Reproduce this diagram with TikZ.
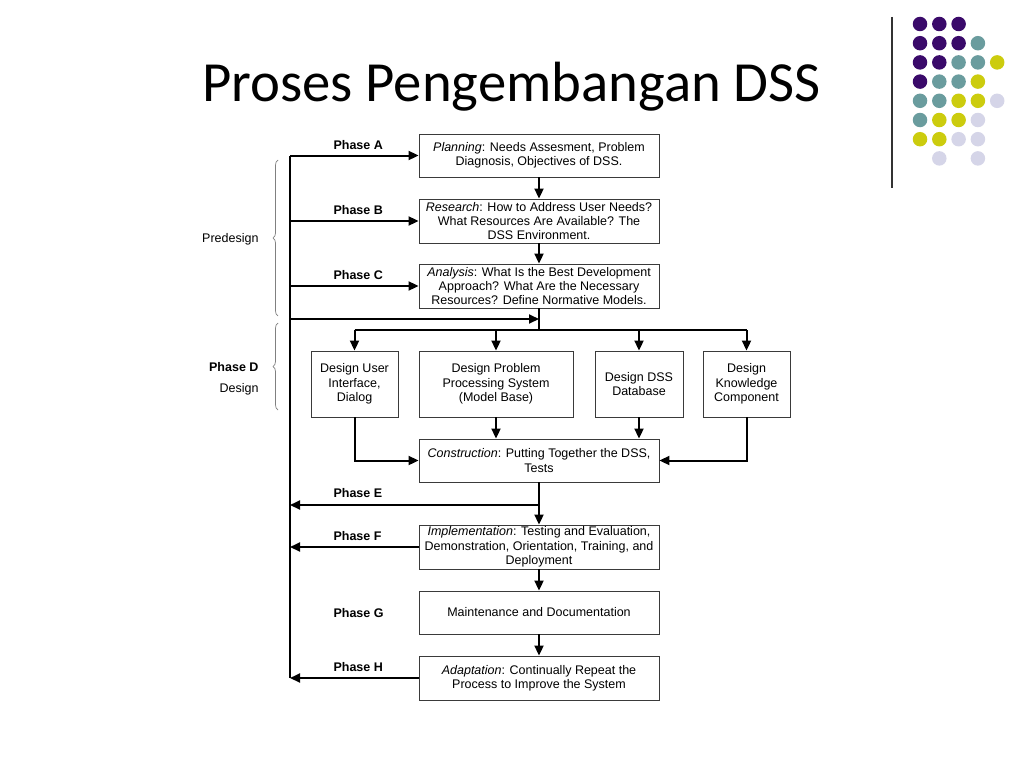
\documentclass[tikz,border=0pt]{standalone}
\usepackage{fontspec}
\setmainfont{Liberation Sans}
\newfontfamily\titlefont{Carlito}
\usetikzlibrary{arrows.meta,decorations.pathreplacing}
\definecolor{dpurple}{HTML}{3A0A6A}
\definecolor{dteal}{HTML}{6A9C9E}
\definecolor{dyellow}{HTML}{CCCC0E}
\definecolor{dlav}{HTML}{D5D5E8}
\definecolor{boxline}{HTML}{3A3A3A}
\tikzset{
  box/.style={draw=boxline, line width=0.9pt, align=center, inner sep=1pt,
    font=\fontsize{12.5}{14.3}\selectfont},
  phase/.style={anchor=west, font=\fontsize{12.5}{14.5}\selectfont\bfseries},
  side/.style={anchor=east, font=\fontsize{12.5}{14.5}\selectfont},
  flow/.style={line width=2pt, -{Triangle[length=10pt,width=9pt]}},
  plain/.style={line width=2pt},
  brc/.style={draw=gray, line width=0.7pt, decorate, decoration={brace, amplitude=5pt}},
  dot/.style={circle, inner sep=0pt, minimum size=14.5pt},
}
\begin{document}
\begin{tikzpicture}[x=1pt,y=-1pt]
\useasboundingbox[fill=white] (0,0) rectangle (1024,768);
% title
\node[font=\titlefont\fontsize{56.7}{62}\selectfont, anchor=base] (title) at (511.5,101) {Proses Pengembangan DSS};
% decoration
\draw[line width=1.2pt, black!80] (892,17) -- (892,188);
\foreach \c/\r/\col in {1/1/dpurple,2/1/dpurple,3/1/dpurple,
  1/2/dpurple,2/2/dpurple,3/2/dpurple,4/2/dteal,
  1/3/dpurple,2/3/dpurple,3/3/dteal,4/3/dteal,5/3/dyellow,
  1/4/dpurple,2/4/dteal,3/4/dteal,4/4/dyellow,
  1/5/dteal,2/5/dteal,3/5/dyellow,4/5/dyellow,5/5/dlav,
  1/6/dteal,2/6/dyellow,3/6/dyellow,4/6/dlav,
  1/7/dyellow,2/7/dyellow,3/7/dlav,4/7/dlav,
  2/8/dlav,4/8/dlav}
  \node[dot, fill=\col] (d\c\r) at ({920+19.3*(\c-1)},{24+19.2*(\r-1)}) {};
% boxes
\node[box, minimum width=240pt, minimum height=43pt] (plan) at (539,155.5)
  {\textit{Planning}: Needs Assesment, Problem\\Diagnosis, Objectives of DSS.};
\node[box, minimum width=240pt, minimum height=44pt] (res) at (539,221)
  {\textit{Research}: How to Address User Needs?\\What Resources Are Available? The\\DSS Environment.};
\node[box, minimum width=240pt, minimum height=44pt] (ana) at (539,286)
  {\textit{Analysis}: What Is the Best Development\\Approach? What Are the Necessary\\Resources? Define Normative Models.};
\node[box, minimum width=87pt, minimum height=66pt] (dui) at (354.5,384)
  {Design User\\Interface,\\Dialog};
\node[box, minimum width=154pt, minimum height=66pt] (dpp) at (496,384)
  {Design Problem\\Processing System\\(Model Base)};
\node[box, minimum width=88pt, minimum height=66pt] (ddb) at (639,384)
  {Design DSS\\Database};
\node[box, minimum width=87pt, minimum height=66pt] (dkc) at (746.5,384)
  {Design\\Knowledge\\Component};
\node[box, minimum width=240pt, minimum height=43pt] (con) at (539,460.5)
  {\textit{Construction}: Putting Together the DSS,\\Tests};
\node[box, minimum width=240pt, minimum height=44pt] (imp) at (539,547)
  {\textit{Implementation}: Testing and Evaluation,\\Demonstration, Orientation, Training, and\\Deployment};
\node[box, minimum width=240pt, minimum height=43pt] (mai) at (539,612.5)
  {Maintenance and Documentation};
\node[box, minimum width=240pt, minimum height=44pt] (ada) at (539,678)
  {\textit{Adaptation}: Continually Repeat the\\Process to Improve the System};
% phase labels
\node[phase] (pa) at (330,145) {Phase A};
\node[phase] (pb) at (330,210) {Phase B};
\node[phase] (pc) at (330,275) {Phase C};
\node[phase] (pe) at (330,493) {Phase E};
\node[phase] (pf) at (330,536) {Phase F};
\node[phase] (pg) at (330,613) {Phase G};
\node[phase] (ph) at (330,667) {Phase H};
\node[side] (pre) at (262,239) {Predesign};
\node[side, font=\fontsize{12.5}{14.5}\selectfont\bfseries] (pd) at (262,367) {Phase D};
\node[side] (des) at (262,389) {Design};
% braces
\draw[brc] (278,316) -- (278,160);
\draw[brc] (278,410) -- (278,323);
% coordinates
\coordinate (LA) at (290,155.5);
\coordinate (LB) at (290,221);
\coordinate (LC) at (290,286);
\coordinate (LD) at (290,319);
\coordinate (LE) at (290,505);
\coordinate (LF) at (290,547);
\coordinate (LH) at (290,678);
\coordinate (CD) at (539,319);
\coordinate (SP) at (539,330);
\coordinate (E0) at (539,505);
% left spine
\draw[plain] (LA) -- (LH);
\draw[flow] (LA) -- (plan.west);
\draw[flow] (LB) -- (res.west);
\draw[flow] (LC) -- (ana.west);
\draw[flow] (LD) -- (CD);
% vertical chain
\draw[flow] (plan) -- (res);
\draw[flow] (res) -- (ana);
\draw[plain] (ana.south) -- (SP);
\draw[plain] (dui.north |- SP) -- (dkc.north |- SP);
\draw[flow] (dui.north |- SP) -- (dui.north);
\draw[flow] (dpp.north |- SP) -- (dpp.north);
\draw[flow] (ddb.north |- SP) -- (ddb.north);
\draw[flow] (dkc.north |- SP) -- (dkc.north);
\draw[flow] (dui.south) |- (con.west);
\draw[flow] (dkc.south) |- (con.east);
\draw[flow] (dpp.south) -- (dpp.south |- con.north);
\draw[flow] (ddb.south) -- (ddb.south |- con.north);
\draw[flow] (con) -- (imp);
\draw[flow] (E0) -- (LE);
\draw[flow] (imp.west) -- (LF);
\draw[flow] (imp) -- (mai);
\draw[flow] (mai) -- (ada);
\draw[flow] (ada.west) -- (LH);
\end{tikzpicture}
\end{document}
